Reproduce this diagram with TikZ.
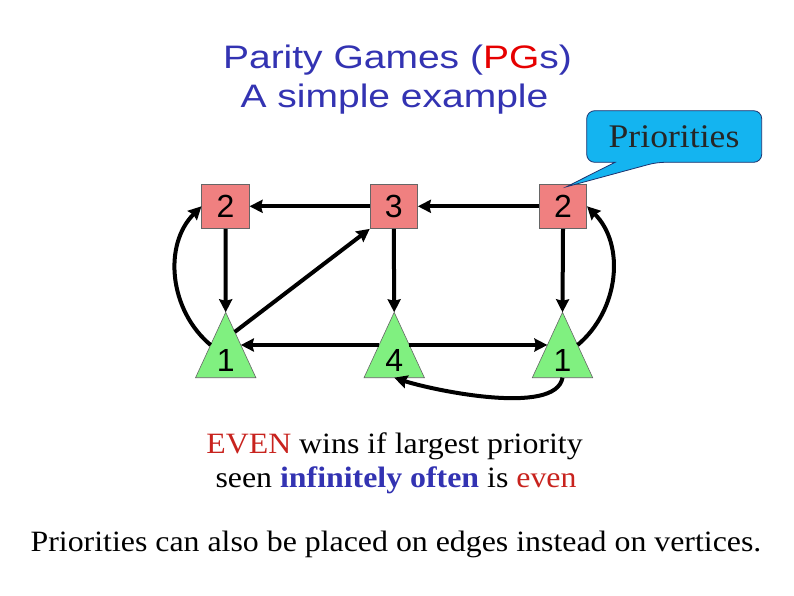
\documentclass[tikz,border=0pt]{standalone}
\usepackage{fontspec}
\setmainfont{Liberation Serif}
\newfontfamily\titlefont{Liberation Sans}[FakeStretch=1.2]
\newfontfamily\numfont{Liberation Sans}
\newfontfamily\txtfont{Liberation Serif}[FakeStretch=1.08]
\usetikzlibrary{arrows.meta,calc}
\definecolor{tblue}{RGB}{51,51,178}
\definecolor{tred}{RGB}{230,0,0}
\definecolor{dred}{RGB}{200,35,30}
\definecolor{sqfill}{RGB}{240,128,128}
\definecolor{trifill}{RGB}{128,240,128}
\definecolor{callfill}{RGB}{20,180,240}
\definecolor{calldraw}{RGB}{30,50,110}
\begin{document}
\begin{tikzpicture}[x=1pt,y=1pt,
  sq/.style={draw=black!60, line width=0.6pt, fill=sqfill, minimum width=47.5pt, minimum height=44.5pt, inner sep=0pt, font=\numfont\fontsize{32}{32}\selectfont},
  tri/.style={minimum width=60pt, minimum height=65pt, inner sep=0pt},
  trishape/.style={draw=black!60, line width=0.6pt, fill=trifill},
  num/.style={font=\numfont\fontsize{32}{32}\selectfont, inner sep=0pt},
  edge/.style={line width=4pt, -{Stealth[length=13pt,width=13pt,inset=1.5pt]}},
  titlestyle/.style={font=\titlefont\fontsize{32.5}{39}\selectfont, text=tblue, inner sep=0pt},
  body/.style={font=\txtfont\fontsize{29.5}{35}\selectfont, inner sep=0pt},
  callout/.style={fill=callfill, draw=calldraw, line width=0.8pt},
  calltext/.style={font=\txtfont\fontsize{33}{33}\selectfont, text=black!85, inner sep=0pt}
]
\useasboundingbox (0,0) rectangle (794,-595);

% title
\node[titlestyle, anchor=base] (title1) at (397.5,-68.3) {Parity Games (\textcolor{tred}{PG}s)};
\node[titlestyle, anchor=base] (title2) at (394.5,-107.3) {A simple example};

% squares
\node[sq] (s2L) at (225.5,-206.3) {2};
\node[sq] (s3)  at (393.8,-206.3) {3};
\node[sq] (s2R) at (563,-206.3) {2};

% triangles
\node[tri] (t1L) at (225.7,-345) {};
\node[tri] (t4)  at (394.2,-345) {};
\node[tri] (t1R) at (562.5,-345) {};
\foreach \t in {t1L,t4,t1R}{
  \filldraw[trishape] (\t.north) -- (\t.south east) -- (\t.south west) -- cycle;
}
\node[num, anchor=base] (t1Ln) at (225.7,-371) {1};
\node[num, anchor=base] (t4n)  at (394.2,-371) {4};
\node[num, anchor=base] (t1Rn) at (562.5,-371) {1};

% edges
\draw[edge] (s3.west) -- (s2L.east);
\draw[edge] (s2R.west) -- (s3.east);
\draw[edge] (s2L.south) -- (t1L.north);
\draw[edge] (s3.south) -- (t4.north);
\draw[edge] (s2R.south) -- (t1R.north);
\draw[edge] ($(t1L.north)!0.3!(t1L.south east)$) -- (s3.south west);
\draw[edge] ($(t4.north)!0.5!(t4.south west)$) -- ($(t1L.north)!0.5!(t1L.south east)$);
\draw[edge] ($(t4.north)!0.5!(t4.south east)$) -- ($(t1R.north)!0.5!(t1R.south west)$);
\draw[edge] ($(t1L.north)!0.5!(t1L.south west)$) to[out=140,in=225] (s2L.west);
\draw[edge] ($(t1R.north)!0.5!(t1R.south east)$) to[out=40,in=-45] (s2R.east);
\draw[edge] (t1R.south) to[out=-100,in=-18,looseness=0.6] (t4.south);

% callout
\coordinate (tip) at ($(s2R.north)+(3.5,-3)$);
\filldraw[callout] (674,-110.7) [rounded corners=8pt] -- (761.7,-110.7) -- (761.7,-162.3) -- (656.7,-162.3) [sharp corners] -- (tip) -- (615,-162.3) [rounded corners=8pt] -- (586.7,-162.3) -- (586.7,-110.7) -- cycle;
\node[calltext, anchor=base] (call) at (674,-147.7) {Priorities};

% texts
\node[body, anchor=base] (rule1) at (394.5,-453) {\textcolor{dred}{EVEN} wins if largest priority};
\node[body, anchor=base] (rule2) at (396,-487.7) {seen \textbf{\textcolor{tblue}{infinitely often}} is \textcolor{dred}{even}};
\node[body, anchor=base] (note) at (396,-551) {Priorities can also be placed on edges instead on vertices.};
\end{tikzpicture}
\end{document}
